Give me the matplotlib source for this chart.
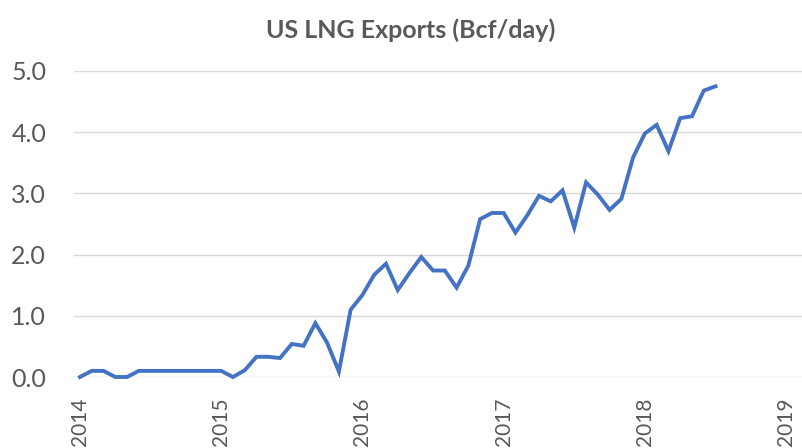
import matplotlib.pyplot as plt
import numpy as np

# monthly LNG exports, Bcf/day, Jan 2014 .. Jul 2018
y2014 = [0.0, 0.1, 0.1, 0.0, 0.0, 0.1, 0.1, 0.1, 0.1, 0.1, 0.1, 0.1]
y2015 = [0.1, 0.0, 0.11, 0.33, 0.33, 0.31, 0.54, 0.51, 0.88, 0.56, 0.09, 1.10]
y2016 = [1.34, 1.67, 1.85, 1.42, 1.70, 1.96, 1.74, 1.74, 1.46, 1.82, 2.58, 2.68]
y2017 = [2.68, 2.36, 2.64, 2.96, 2.87, 3.05, 2.44, 3.18, 2.98, 2.73, 2.91, 3.59]
y2018 = [3.98, 4.12, 3.69, 4.23, 4.26, 4.68, 4.75]
years = [2014, 2015, 2016, 2017, 2018, 2019]
yticks = [0, 1, 2, 3, 4, 5]

vals = y2014 + y2015 + y2016 + y2017 + y2018
t = 2014 + np.arange(len(vals)) / 12.0

grey = '#595959'
plt.rcParams['font.family'] = ['Lato', 'DejaVu Sans']

fig = plt.figure(figsize=(8.03, 4.48), dpi=100)
ax = fig.add_axes([74/803, 71/448, 729/803, 306/448])

ax.plot(t, vals, color='#4472C4', lw=2.8, solid_joinstyle='miter', clip_on=False)

ax.set_xlim(2014 - 6/142.4, 2014 + 729/142.4)
ax.set_ylim(0, 5)
ax.set_yticks(yticks)
ax.set_yticklabels(['%.1f' % v for v in yticks])
ax.set_xticks(years)
ax.set_xticklabels([str(y) for y in years], rotation=90)
ax.tick_params(axis='y', length=0, pad=20, labelsize=18, labelcolor=grey)
ax.tick_params(axis='x', length=0, pad=15, labelsize=15, labelcolor=grey)
ax.grid(axis='y', color='#D9D9D9', lw=1)
ax.set_axisbelow(True)
for s in ax.spines.values():
    s.set_visible(False)

fig.text(0.511, 0.933, 'US LNG Exports (Bcf/day)', ha='center', va='center',
         fontsize=18, fontweight='bold', color=grey)

fig.savefig('out.png', dpi=100)
